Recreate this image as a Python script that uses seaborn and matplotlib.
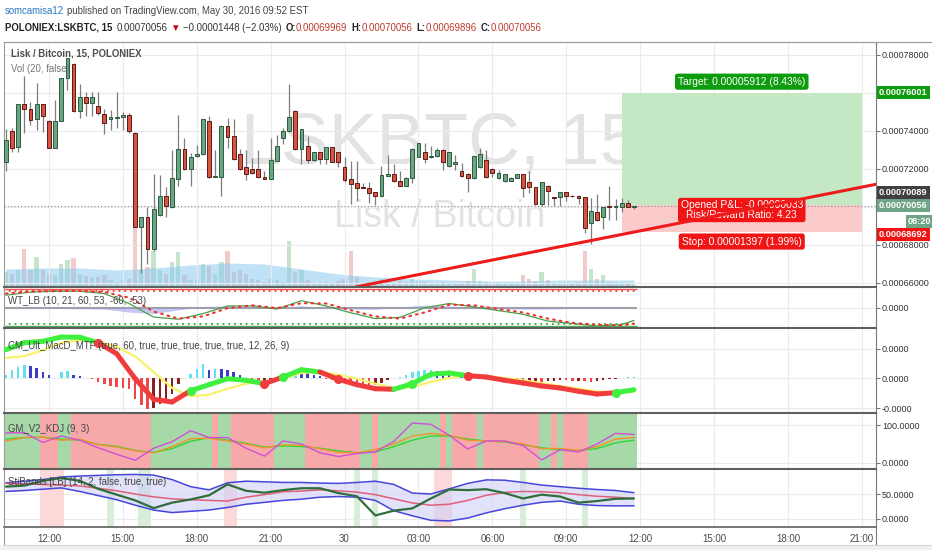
import numpy as np
import pandas as pd
import matplotlib
matplotlib.use("Agg")
import matplotlib.pyplot as plt
import matplotlib.dates as mdates
from matplotlib import font_manager
from matplotlib.collections import LineCollection
from matplotlib.patches import Rectangle
from matplotlib.lines import Line2D
import seaborn as sns

# ---- data (prices in units of 1e-5 BTC, 15m bars) ----
start = pd.Timestamp("2016-05-29 10:15")

opens = [72.37, 74.00, 73.16, 75.39, 75.12, 74.60, 75.39, 74.51, 73.11, 74.51,
         76.79, 77.49, 75.04, 75.79, 75.48, 75.30, 74.86, 74.60, 74.69, 74.70,
         74.83, 73.90, 68.95, 69.44, 67.76, 69.56, 70.58, 69.97, 71.46, 73.04,
         71.97, 72.67, 72.77, 74.51, 71.56, 71.58, 74.25, 73.72, 72.77, 72.07,
         71.98, 71.98, 71.58, 71.46, 72.42, 73.60, 73.99, 75.04, 73.02, 73.20,
         72.46, 72.86, 72.49, 73.13, 72.86, 72.11, 71.46, 71.23, 71.05, 71.00,
         70.76, 70.56, 71.63, 71.70, 71.37, 71.11, 71.49, 72.63, 72.86, 72.60,
         72.67, 72.99, 72.16, 72.25, 71.90, 71.72, 71.49, 72.07, 72.46, 71.98,
         71.49, 71.37, 71.37, 71.53, 71.70, 71.28, 71.02, 70.13, 71.11, 70.51,
         70.49, 70.76, 70.58, 70.58, 70.49, 69.13, 69.74, 69.48, 70.00, 70.00,
         69.97, 70.21, 69.969]
highs = [74.07, 74.13, 75.39, 76.88, 75.49, 76.53, 75.39, 74.56, 75.62, 76.79,
         77.81, 77.55, 76.44, 76.05, 76.05, 76.05, 75.12, 75.09, 76.02, 75.00,
         74.95, 73.95, 69.48, 70.00, 71.70, 71.67, 71.05, 72.99, 74.83, 73.60,
         72.81, 73.25, 74.63, 74.77, 72.99, 74.28, 74.65, 74.60, 73.02, 72.99,
         72.55, 72.99, 71.88, 73.60, 73.77, 74.13, 76.44, 75.07, 74.11, 73.72,
         72.90, 72.90, 73.16, 73.16, 72.90, 72.63, 72.41, 72.41, 71.27, 71.32,
         70.79, 72.14, 72.72, 72.23, 71.88, 71.56, 73.07, 73.37, 73.34, 73.20,
         73.07, 73.02, 72.90, 72.72, 72.32, 71.76, 72.72, 73.07, 72.99, 72.02,
         71.93, 71.74, 71.56, 71.74, 71.74, 71.90, 71.05, 71.32, 71.14, 70.53,
         70.79, 70.79, 70.62, 70.62, 70.53, 70.44, 70.65, 70.00, 71.09, 70.39,
         70.44, 70.35, 70.056]
lows = [71.90, 72.90, 72.90, 73.86, 74.30, 74.04, 73.95, 73.07, 73.07, 74.51,
        76.14, 75.00, 74.65, 74.77, 74.77, 74.83, 73.81, 74.04, 74.13, 74.04,
        73.90, 68.91, 66.49, 66.99, 67.69, 69.51, 69.48, 69.91, 71.11, 71.93,
        71.11, 72.63, 72.74, 71.51, 71.55, 70.56, 73.07, 72.46, 71.93, 71.41,
        71.72, 71.51, 71.44, 71.44, 72.39, 73.30, 73.95, 72.99, 72.25, 72.32,
        72.42, 72.25, 72.25, 72.34, 72.11, 71.32, 70.14, 70.30, 70.97, 70.21,
        70.09, 70.53, 71.62, 71.32, 71.09, 71.09, 71.23, 72.60, 72.32, 72.56,
        72.63, 71.93, 72.11, 71.93, 71.58, 70.79, 71.46, 72.02, 71.51, 71.55,
        71.46, 71.32, 71.34, 71.49, 70.53, 70.74, 70.09, 70.06, 70.09, 70.06,
        70.06, 70.30, 70.53, 70.14, 68.63, 68.04, 69.27, 68.81, 69.30, 69.30,
        69.74, 69.97, 69.896]
closes = [73.51, 73.11, 75.39, 75.12, 74.56, 75.39, 74.77, 73.11, 74.51, 76.79,
          77.81, 75.04, 75.79, 75.48, 75.79, 74.95, 74.42, 74.74, 74.70, 74.83,
          73.99, 68.95, 69.44, 67.76, 69.86, 70.58, 70.06, 71.49, 73.04, 71.97,
          72.63, 72.77, 74.60, 71.55, 71.58, 74.25, 73.69, 72.49, 71.97, 71.70,
          71.76, 71.55, 71.48, 72.46, 73.21, 73.99, 74.74, 73.02, 74.07, 72.46,
          72.86, 72.49, 73.13, 72.37, 72.37, 71.41, 71.18, 71.00, 71.00, 70.74,
          70.56, 71.67, 71.70, 71.37, 71.11, 71.53, 73.04, 73.34, 72.49, 72.69,
          72.99, 72.37, 72.86, 72.37, 71.62, 71.49, 72.69, 72.77, 71.55, 71.79,
          71.79, 71.70, 71.53, 71.70, 71.00, 71.02, 70.13, 71.28, 70.84, 70.48,
          70.76, 70.58, 70.55, 70.44, 68.90, 69.77, 69.30, 69.97, 69.99, 70.02,
          70.21, 70.00, 70.056]
volume = [15, 13, 17, 38, 17, 30, 17, 13, 12, 23,
          27, 29, 13, 11, 10, 10, 12, 7, 5, 7,
          8, 60, 17, 20, 36, 17, 13, 25, 35, 12,
          7, 7, 23, 21, 13, 25, 36, 15, 17, 13,
          8, 7, 5, 8, 7, 5, 46, 15, 17, 7,
          3, 3, 5, 4, 6, 8, 36, 10, 4, 5,
          6, 8, 5, 4, 6, 5, 8, 6, 5, 3,
          4, 5, 4, 3, 4, 6, 18, 6, 5, 3,
          3, 4, 3, 4, 12, 8, 6, 15, 7, 3,
          4, 5, 3, 5, 36, 18, 8, 12, 5, 4,
          3, 3, 2]
vol_ma_bars = list(range(0, 103, 6))
vol_ma = [18, 19, 19, 17, 19, 22, 24, 23, 18, 13, 10, 8, 7, 6, 6, 7, 7, 7]

# WT_LB
wt_bars = list(range(0, 101, 4)) + [102]
wt1 = [40, 50, 53, 53, 45, 13, -31, -38, -20, 5, 5, -5, 22, 5, -17, -36, -32, -1, 13, 2,
       -10, -22, -44, -52, -60, -55, -42]
wt2 = [45, 52, 53, 54, 50, 32, -13, -36, -29, -2, 7, -2, 14, 13, -9, -29, -36, -16, 9, 7,
       -5, -16, -36, -50, -56, -58, -52]
wt_diff = [0, -2, -3, -4, -5, -15, -20, -8, 3, 5, 2, -3, 6, -3, -5, -6, 2, 8, 5, -3,
           -4, -5, -5, -3, -2, -2, -2]

# CM_Ult_MacD_MTF
ind_bars = list(range(0, 103, 3))
macd = [28.3, 35.3, 36.7, 41.0, 40.7, 35.3, 24.3, -0.7, -21.3, -24.0, -12.7, -6.7, -0.7, -2.3,
        -5.7, 1.0, 8.3, 6.0, -1.3, -6.7, -10.7, -11.3, -5.7, 3.7, 5.0, 2.3, 1.0, -2.3, -5.0,
        -8.0, -10.0, -13.3, -16.0, -14.7, -11.7]
signal = [20, 22, 27.7, 35.3, 37.7, 36.7, 31, 21.7, 6, -10, -18.3, -16.7, -10.7, -5.7, -3.3,
          -0.7, 5, 6, 3.3, -0.7, -5.7, -10, -9, -4, 0, 2.7, 2, 0, -2.3, -5, -8, -10.7,
          -13.3, -14.7, -14]
hist = [3.3, 7.7, 11, 12.7, 11.7, 10, 6, 2.7, 0, 6, 6.7, 3.3, 2, 0, -0.7, -4, -5.7, -8, -9,
        -10, -10.7, -20.7, -27, -31, -30, -25.7, -22, -15.7, -5.7, 0, 4.3, 9.3, 14.3, 7.7,
        9.3, 8.7, 7.7, 6, 2.7, -0.7, -2.3, -3.3, -2.3, -1.3, 0, 2.7, 6, 7.7, 6.7, 5.3, 3.3,
        2, -0.7, -1.7, -3.3, -4.7, -5.7, -6.7, -7.3, -8, -7.3, -4.7, -2.3, 0, 1, 2.7, 6,
        6.7, 7.7, 7.7, 6.7, 6, 5.3, 4.3, 2.7, 1, 1, 1.7, 1, -0.7, -1.3, -2.3, -3.3, -4, -4,
        -3.3, -3, -4, -3.3, -2.7, -1.7, -2.3, -3.3, -2.7, -3.3, -4, -3.3, -2.3, -1.3, -0.7,
        0, 0.7, 1]

# GM_V2_KDJ
kdj_j = [79, 80, 54, 71, 60, 40, 23, 7, 39, 56, 85, 67, 67, 39, 18, 58, 50, 27, 17, 25, 29,
         57, 105, 102, 73, 37, 58, 58, 46, 8, 35, 29, 50, 78, 75]
kdj_k = [58, 67, 68, 60, 63, 48, 42, 32, 27, 43, 64, 65, 58, 50, 40, 48, 46, 38, 28, 27, 35,
         50, 71, 78, 73, 60, 58, 57, 50, 38, 38, 33, 43, 63, 67]
kdj_d = [63, 67, 68, 63, 60, 49, 44, 33, 28, 38, 57, 67, 60, 52, 42, 45, 43, 39, 32, 27, 29,
         43, 60, 71, 71, 63, 58, 55, 48, 40, 35, 33, 38, 53, 60]
kdj_edges = [-0.5, 5.5, 8.5, 10.5, 23.5, 33.5, 34.5, 36.5, 43.5, 48.5, 57.5, 59.5, 60.5,
             70.5, 71.5, 72.5, 76.5, 77.5, 86.5, 88.5, 89.5, 90.5, 94.5, 102.5]

# StiBands
sti_upper = [72.4, 75.6, 78.8, 84.0, 85.9, 87.2, 88.5, 89.1, 87.8, 78.8, 64.7, 58.3, 72.4,
             75.6, 74.4, 73.1, 73.1, 71.8, 71.2, 73.1, 75.6, 69.2, 51.9, 50.0, 60.3, 71.2,
             78.2, 77.6, 73.1, 67.9, 64.7, 61.5, 59.0, 57.0, 52.6]
sti_lower = [55.1, 57.0, 59.6, 62.2, 55.1, 46.8, 38.5, 27.6, 17.9, 12.8, 15.4, 17.9, 23.1,
             29.5, 33.3, 37.2, 39.7, 43.6, 44.9, 43.6, 37.2, 16.7, 6.4, -2.6, -3.8, 1.9,
             12.2, 20.5, 27.6, 33.3, 35.9, 29.5, 26.9, 26.3, 26.3]
sti_mid = [71.2, 70.5, 69.2, 67.9, 66.0, 61.5, 56.4, 50.0, 44.2, 40.4, 38.5, 37.2, 35.9, 43.6,
           48.7, 54.5, 55.8, 58.3, 56.4, 53.8, 48.7, 40.4, 32.1, 27.6, 29.5, 37.2, 47.4, 53.2,
           55.1, 54.5, 52.6, 48.7, 45.5, 43.6, 41.0]
sti_line = [64.7, 66.7, 76.3, 82.0, 76.3, 60.3, 48.7, 37.2, 21.8, 32.7, 39.1, 47.4, 69.2, 56.4,
            52.6, 57.7, 61.5, 61.5, 51.9, 45.5, 7.1, 16.7, 21.2, 41.0, 59.0, 57.7, 59.6, 51.9,
            41.0, 48.7, 44.9, 32.7, 35.9, 40.4, 41.0]
sti_stripes = [(5.5, 9.5, "r"), (16.5, 17.5, "g"), (21.5, 23.5, "g"), (35.5, 37.5, "r"),
               (56.5, 57.5, "g"), (59.5, 60.5, "g"), (69.5, 72.5, "r"), (83.5, 84.5, "g"),
               (93.5, 94.5, "g")]

# drawings
last_price = 70.056
entry, target, stop = 70.089, 76.001, 68.692
box_bars = (100, 139)
trend_t = ["2016-05-30 00:26", "2016-05-30 21:37"]
trend_p = [65.77, 71.19]
price_ticks = [66, 68, 70, 72, 74, 76, 78]
covered_ticks = [70, 76]   # hidden behind the price flags in the screenshot

# ---- look ----
sns.set_theme(style="white")
names = {f.name for f in font_manager.fontManager.ttflist}
NARROW = "Liberation Sans Narrow" in names
plt.rcParams["font.family"] = ["Liberation Sans Narrow" if NARROW else "Liberation Sans", "DejaVu Sans"]
k = 1.0 if NARROW else 0.82
TICK, HDR, LBL, FLAG, POS = 8 * k, 8.5 * k, 8.5 * k, 8 * k, 9 * k
if not NARROW:
    TICK = 6.5

W, H = 932, 550
fig = plt.figure(figsize=(W / 100, H / 100), dpi=100)
fig.patch.set_facecolor("white")


def pane(top, bottom, left=4, right=876):
    return fig.add_axes([left / W, 1 - bottom / H, (right - left) / W, (bottom - top) / H])


x0 = mdates.date2num(start)
step = 15 / 1440.0


def bx(b):
    return x0 + np.asarray(b, dtype=float) * step


xlim = (bx(-0.3), bx(141.3))
tick_times = pd.date_range("2016-05-29 12:00", periods=12, freq="3h")
tick_nums = mdates.date2num(tick_times)
tick_labels = [t.strftime("%d") if t.hour == 0 else t.strftime("%H:%M") for t in tick_times]


def setup(a, yticks, ylabels, ylim):
    a.set_xlim(*xlim)
    a.set_ylim(*ylim)
    a.set_facecolor("none")
    a.set_xticks(tick_nums)
    a.tick_params(axis="x", length=0, labelbottom=False)
    a.yaxis.tick_right()
    a.set_yticks(yticks)
    a.set_yticklabels(ylabels)
    a.tick_params(axis="y", length=3, width=0.8, color="#777777", pad=1.2,
                  labelsize=TICK, labelcolor="#333333", left=False, labelleft=False)
    a.grid(True, color="#ebebeb", lw=0.8)
    a.set_axisbelow(True)
    for s in a.spines.values():
        s.set_visible(False)
    a.spines["top"].set_visible(True)
    a.spines["top"].set_color("#5e5e5e")
    a.spines["top"].set_linewidth(1.5)
    a.spines["right"].set_visible(True)
    a.spines["right"].set_color("#777777")
    a.spines["right"].set_linewidth(0.8)
    a.spines["left"].set_visible(True)
    a.spines["left"].set_color("#9a9a9a")
    a.spines["left"].set_linewidth(0.8)


t_all = bx(np.arange(len(opens)))
o, h, l, c = map(np.array, (opens, highs, lows, closes))
up = c >= o

# ---- volume (own axes, below candles) ----
vol_ax = pane(42, 287)
vol_ax.set_xlim(*xlim)
vol_ax.set_ylim(0, 245)
vol_ax.set_facecolor("white")
vol_ax.axis("off")
vcol = np.where(up, "#c6e3cc", "#f1caca")
vol_ax.bar(t_all, volume, width=0.7 * step, color=vcol, edgecolor="none", zorder=2)
vol_ax.fill_between(bx(vol_ma_bars), 0, vol_ma, color="#8ccbf2", alpha=0.55, lw=0, zorder=3)

# ---- main price pane ----
ax = pane(42, 287)
setup(ax, price_ticks,
      ["" if v in covered_ticks else "%.8f" % (v * 1e-5) for v in price_ticks],
      (65.774, 78.668))
ax.spines["top"].set_color("#9a9a9a")
ax.spines["top"].set_linewidth(0.8)

ax.text(0.5, 0.506, "LSKBTC, 15", transform=ax.transAxes, ha="center", va="baseline",
        fontsize=63 * k, color="#e3e3e3", zorder=0.4)
ax.text(0.5, 0.246, "Lisk / Bitcoin", transform=ax.transAxes, ha="center", va="baseline",
        fontsize=33 * k, color="#e3e3e3", zorder=0.4)

# long position tool
bs, be = bx(box_bars[0]), bx(box_bars[1])
ax.fill_between([bs, be], entry, target, color="#c4e8c4", lw=0, zorder=1)
ax.fill_between([bs, be], stop, entry, color="#fbcaca", lw=0, zorder=1)
ax.axhline(last_price, color="#8a8a8a", lw=0.8, ls=(0, (1, 2)), zorder=1.5)

ax.vlines(t_all, l, h, color="#7d7d7d", lw=0.9, zorder=2)
body = np.maximum(np.abs(c - o), 0.035)
bot = np.minimum(o, c)
ax.bar(t_all[up], body[up], bottom=bot[up], width=0.62 * step, color="#6ba583",
       edgecolor="#2c5b40", linewidth=0.7, zorder=3)
ax.bar(t_all[~up], body[~up], bottom=bot[~up], width=0.62 * step, color="#d75442",
       edgecolor="#5b1a13", linewidth=0.7, zorder=3)

mid = (bs + be) / 2
lab = dict(ha="center", va="center", color="white", fontsize=POS, zorder=6,
           textcoords="offset pixels", annotation_clip=False)
ax.annotate("Target: 0.00005912 (8.43%)", xy=(mid, target), xytext=(0, 11),
            bbox=dict(boxstyle="round,pad=0.3,rounding_size=0.25", fc="#0d9c0d", ec="none"), **lab)
ax.annotate("Opened P&L: -0.00000033\nRisk/Reward Ratio: 4.23", xy=(mid, entry), xytext=(0, -5),
            linespacing=0.9,
            bbox=dict(boxstyle="round,pad=0.25,rounding_size=0.25", fc="#f01414", ec="none"), **lab)
ax.annotate("Stop: 0.00001397 (1.99%)", xy=(mid, stop), xytext=(0, -10),
            bbox=dict(boxstyle="round,pad=0.3,rounding_size=0.25", fc="#f01414", ec="none"), **lab)

ax.plot(mdates.date2num(pd.to_datetime(trend_t)), trend_p, color="#ee1b1b", lw=2.2,
        solid_capstyle="butt", zorder=7)


def flag(a, y, txt, fc, dy=0, dx=3):
    a.annotate(txt, xy=(1, y), xycoords=("axes fraction", "data"), xytext=(dx, -dy),
               textcoords="offset pixels", ha="left", va="center", color="white",
               fontsize=FLAG, weight="bold", annotation_clip=False, zorder=10,
               bbox=dict(boxstyle="square,pad=0.22", fc=fc, ec="none"))


flag(ax, target, "0.00076001", "#0d9c0d")
flag(ax, entry, "0.00070089", "#404040", dy=-13)
flag(ax, last_price, "0.00070056", "#6fa487")
flag(ax, last_price, "08:20", "#6fa487", dy=16, dx=32)
flag(ax, stop, "0.00068692", "#f01414", dy=3)

# ---- WT_LB ----
wt_ax = pane(287, 328)
setup(wt_ax, [0], ["0.0000"], (-66.5, 66.5))
wt_t = bx(wt_bars)
d0, d1 = bx(-0.5), bx(102.5)
wt_ax.hlines(60, d0, d1, color="#ef5350", lw=1.0, zorder=1)
wt_ax.hlines(53, d0, d1, color="#ef3b3b", lw=1.3, ls=(0, (1, 2.2)), zorder=1)
wt_ax.hlines(-53, d0, d1, color="#3aa03a", lw=1.3, ls=(0, (1, 2.2)), zorder=1)
wt_ax.hlines(-60, d0, d1, color="#4caf50", lw=1.0, zorder=1)
wt_ax.hlines(0, d0, d1, color="#a0a0a0", lw=1.5, zorder=1)
wt_ax.fill_between(wt_t, 0, wt_diff, color="#9a9ae8", alpha=0.55, lw=0, zorder=2)
sns.lineplot(x=wt_t, y=wt1, ax=wt_ax, color="#4a9f4a", linewidth=0.9, zorder=3)
wt_ax.plot(wt_t, wt2, color="#ee3030", lw=1.5, ls=(0, (0.8, 2.4)), dash_capstyle="round", zorder=4)

# ---- CM_Ult_MacD_MTF ----
macd_ax = pane(328, 413)
setup(macd_ax, [29, 0, -30], ["0.0000", "0.0000", "-0.0000"], (-35, 50))
hv = np.array(hist)
dh = np.diff(hv, prepend=hv[0])
hcol = np.where(hv >= 0, np.where(dh >= 0, "#5fe3f3", "#3c3ccc"),
                np.where(dh <= 0, "#f04848", "#8a1f1f"))
macd_ax.bar(t_all, hv, width=0.4 * step, color=hcol, edgecolor="none", zorder=2)
it = bx(ind_bars)
sns.lineplot(x=it, y=signal, ax=macd_ax, color="#f6f36a", linewidth=1.6, zorder=3)
m, s = np.array(macd), np.array(signal)
pts = np.column_stack([it, m])
segs = np.stack([pts[:-1], pts[1:]], axis=1)
above = (m[:-1] + m[1:]) >= (s[:-1] + s[1:])
macd_ax.add_collection(LineCollection(segs, colors=np.where(above, "#3ff03f", "#f03c3c"),
                                      linewidths=3.6, capstyle="round", zorder=4))
diff_sign = (m - s) >= 0
for i in range(1, len(m)):
    if diff_sign[i] != diff_sign[i - 1]:
        macd_ax.plot(it[i], m[i], "o", ms=5.5, color="#3ff03f" if diff_sign[i] else "#f03c3c",
                     zorder=5)

# ---- GM_V2_KDJ ----
kdj_ax = pane(413, 469)
setup(kdj_ax, [0, 100], ["0.0000", "100.0000"], (-15.8, 131.6))
for i in range(len(kdj_edges) - 1):
    kdj_ax.axvspan(bx(kdj_edges[i]), bx(kdj_edges[i + 1]), color="#a6d8a8" if i % 2 == 0 else "#f7a9a9",
                   lw=0, zorder=0.6)
sns.lineplot(x=it, y=kdj_d, ax=kdj_ax, color="#33d633", linewidth=1.0, zorder=3)
sns.lineplot(x=it, y=kdj_k, ax=kdj_ax, color="#f0922e", linewidth=1.0, zorder=3)
sns.lineplot(x=it, y=kdj_j, ax=kdj_ax, color="#d24fd8", linewidth=1.0, zorder=4)

# ---- StiBands ----
sti_ax = pane(469, 527)
setup(sti_ax, [0, 50], ["0.0000", "50.0000"], (-16, 100))
for a0, a1, kk in sti_stripes:
    sti_ax.axvspan(bx(a0), bx(a1), color="#fbd9d9" if kk == "r" else "#d8eed8", lw=0, zorder=0.6)
sti_ax.fill_between(it, sti_lower, sti_upper, color="#cfcff7", alpha=0.6, lw=0, zorder=1)
sns.lineplot(x=it, y=sti_upper, ax=sti_ax, color="#4646dc", linewidth=1.1, zorder=2)
sns.lineplot(x=it, y=sti_lower, ax=sti_ax, color="#4646dc", linewidth=1.1, zorder=2)
sns.lineplot(x=it, y=sti_mid, ax=sti_ax, color="#e0607a", linewidth=1.1, zorder=2)
sns.lineplot(x=it, y=sti_line, ax=sti_ax, color="#2f6e3a", linewidth=1.6, zorder=3)
sti_ax.spines["bottom"].set_visible(True)
sti_ax.spines["bottom"].set_color("#5e5e5e")
sti_ax.spines["bottom"].set_linewidth(1.2)
sti_ax.tick_params(axis="x", labelbottom=True, labelsize=TICK + 0.5, labelcolor="#4a4a4a", pad=5)
sti_ax.set_xticklabels(tick_labels)

for a in (ax, wt_ax, macd_ax, kdj_ax, sti_ax):
    a.set_xlim(*xlim)
    a.set_xlabel("")
    a.set_ylabel("")

# ---- frame bits and texts ----
fig.add_artist(Rectangle((0, 0), 1, 5 / H, transform=fig.transFigure, fc="#eef0f3", ec="none"))
for xs, ys, col in [([4, 932], [42, 42], "#9a9a9a"), ([876, 876], [527, 545], "#777777"),
                    ([4, 4], [527, 545], "#9a9a9a"), ([4, 932], [545, 545], "#d5d5d5")]:
    fig.add_artist(Line2D(np.array(xs) / W, 1 - np.array(ys) / H, transform=fig.transFigure,
                          color=col, lw=0.8))

renderer = fig.canvas.get_renderer()


def header(y, pieces, x=5):
    for txt, col, wt, gap in pieces:
        t = fig.text(x / W, 1 - y / H, txt, color=col, fontsize=HDR, weight=wt, va="center", ha="left")
        x += t.get_window_extent(renderer).width + gap


header(11, [("somcamisa12", "#2a78c0", "normal", 3),
            ("published on TradingView.com, May 30, 2016 09:52 EST", "#444444", "normal", 0)])
red = "#c0392b"
header(28, [("POLONIEX:LSKBTC, 15", "#222222", "bold", 4), ("0.00070056", "#333333", "normal", 3),
            ("\u25bc", "#d0021b", "normal", 3), ("\u22120.00001448 (\u22122.03%)", "#333333", "normal", 4),
            ("O:", "#222222", "bold", 0), ("0.00069969", red, "normal", 4),
            ("H:", "#222222", "bold", 0), ("0.00070056", red, "normal", 4),
            ("L:", "#222222", "bold", 0), ("0.00069896", red, "normal", 4),
            ("C:", "#222222", "bold", 0), ("0.00070056", red, "normal", 0)])


def label(x, y, txt, col="#444444", wt="normal"):
    fig.text(x / W, 1 - y / H, txt, color=col, fontsize=LBL, weight=wt, va="center", ha="left")


label(11, 54, "Lisk / Bitcoin, 15, POLONIEX", "#4d4d4d", "bold")
label(11, 69, "Vol (20, false)", "#777777")
label(8, 301, "WT_LB (10, 21, 60, 53, -60, -53)")
label(8, 346, "CM_Ult_MacD_MTF (true, 60, true, true, true, true, true, 12, 26, 9)")
label(8, 429, "GM_V2_KDJ (9, 3)")
label(8, 482, "StiBands [LB] (14, 2, false, true, true)")

fig.savefig("out.png", dpi=100)
